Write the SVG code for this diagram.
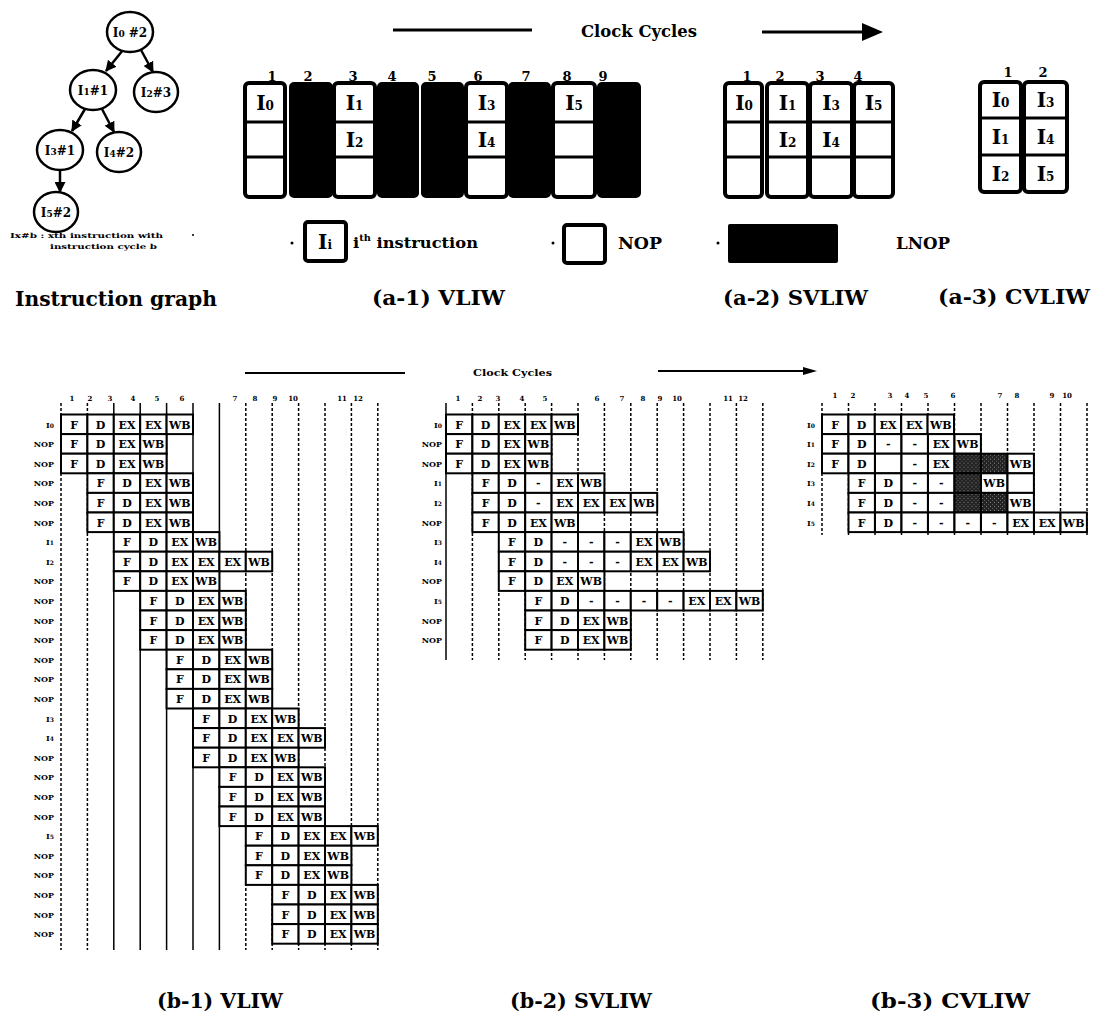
<svg xmlns="http://www.w3.org/2000/svg" width="1093" height="1023" viewBox="0 0 1093 1023">
<style>
.sf{font-family:"DejaVu Serif","Liberation Serif",serif;font-weight:bold;fill:#000}
.col{fill:#fff;stroke:#000;stroke-width:4}
.blk{fill:#000;stroke:#000;stroke-width:2}
.dv{stroke:#000;stroke-width:3}
.cell{fill:#fff;stroke:#000;stroke-width:2}
.ct{font-family:"DejaVu Serif","Liberation Serif",serif;font-weight:bold;font-size:11px;text-anchor:middle}
.lbl{font-family:"DejaVu Serif","Liberation Serif",serif;font-weight:bold;font-size:8px;text-anchor:end}
.num{font-family:"DejaVu Serif","Liberation Serif",serif;font-weight:bold;font-size:7px;text-anchor:middle}
.anum{font-family:"DejaVu Serif","Liberation Serif",serif;font-weight:bold;font-size:13px;text-anchor:middle}
.vs{stroke:#000;stroke-width:1.5}
.vd{stroke:#000;stroke-width:1.5;stroke-dasharray:3 2}
.it{font-family:"DejaVu Serif","Liberation Serif",serif;font-weight:bold;font-size:20px;text-anchor:middle}
.nt{font-family:"DejaVu Serif","Liberation Serif",serif;font-weight:bold;font-size:12px;text-anchor:middle}
.node{fill:#fff;stroke:#000;stroke-width:2.5}
.edge{stroke:#000;stroke-width:2.5;fill:none;marker-end:url(#ah)}
.cap{font-family:"DejaVu Serif","Liberation Serif",serif;font-weight:bold;font-size:20px}
</style>
<defs>
<marker id="ah" viewBox="0 0 10 10" refX="9" refY="5" markerWidth="11" markerHeight="11" markerUnits="userSpaceOnUse" orient="auto"><path d="M0,0 L10,5 L0,10 z" fill="#000"/></marker>
<pattern id="dots" width="4" height="4" patternUnits="userSpaceOnUse"><rect width="4" height="4" fill="#222"/><rect x="1" y="1" width="1" height="1" fill="#888"/><rect x="3" y="3" width="1" height="1" fill="#666"/></pattern>
<g id="cF"><rect class="cell" width="26.4" height="19.6"/><text class="ct" x="13.2" y="14">F</text></g>
<g id="cD"><rect class="cell" width="26.4" height="19.6"/><text class="ct" x="13.2" y="14">D</text></g>
<g id="cEX"><rect class="cell" width="26.4" height="19.6"/><text class="ct" x="13.2" y="14">EX</text></g>
<g id="cWB"><rect class="cell" width="26.4" height="19.6"/><text class="ct" x="13.2" y="14">WB</text></g>
<g id="cM"><rect class="cell" width="26.4" height="19.6"/><text class="ct" x="13.2" y="14">-</text></g>
<g id="cE"><rect class="cell" width="26.4" height="19.6"/></g>
<g id="cS"><rect width="26.4" height="19.6" fill="url(#dots)" stroke="#000" stroke-width="2"/></g>
<g id="s4"><use href="#cF"/><use href="#cD" x="26.4"/><use href="#cEX" x="52.8"/><use href="#cWB" x="79.2"/></g>
<g id="s5"><use href="#cF"/><use href="#cD" x="26.4"/><use href="#cEX" x="52.8"/><use href="#cEX" x="79.2"/><use href="#cWB" x="105.6"/></g>
<g id="s6"><use href="#cF"/><use href="#cD" x="26.4"/><use href="#cEX" x="52.8"/><use href="#cEX" x="79.2"/><use href="#cEX" x="105.6"/><use href="#cWB" x="132"/></g>
</defs>
<rect width="1093" height="1023" fill="#fff"/>

<!-- Instruction graph -->
<g id="connectors">
<line class="edge" x1="123" y1="50" x2="106" y2="71"/>
<line class="edge" x1="141" y1="50" x2="153" y2="72"/>
<line class="edge" x1="85" y1="109" x2="72" y2="131"/>
<line class="edge" x1="102" y1="109" x2="114" y2="132"/>
<line class="edge" x1="60" y1="170" x2="60" y2="192"/>
</g>
<g id="n-I0"><ellipse class="node" cx="130" cy="32" rx="23" ry="20"/><text class="nt" x="130" y="37">I<tspan font-size="9">0</tspan> #2</text></g>
<g id="n-I1"><ellipse class="node" cx="93" cy="90" rx="23" ry="20"/><text class="nt" x="93" y="95">I<tspan font-size="9">1</tspan>#1</text></g>
<g id="n-I2"><ellipse class="node" cx="156" cy="92" rx="22" ry="20"/><text class="nt" x="156" y="97">I<tspan font-size="9">2</tspan>#3</text></g>
<g id="n-I3"><ellipse class="node" cx="60" cy="150" rx="23" ry="20"/><text class="nt" x="60" y="155">I<tspan font-size="9">3</tspan>#1</text></g>
<g id="n-I4"><ellipse class="node" cx="119" cy="152" rx="22" ry="20"/><text class="nt" x="119" y="157">I<tspan font-size="9">4</tspan>#2</text></g>
<g id="n-I5"><ellipse class="node" cx="56" cy="212" rx="22" ry="20"/><text class="nt" x="56" y="217">I<tspan font-size="9">5</tspan>#2</text></g>
<text class="sf" x="10" y="238" font-size="7" textLength="153" lengthAdjust="spacingAndGlyphs">Ix#b :  xth  instruction with</text>
<text class="sf" x="50" y="249" font-size="7" textLength="107" lengthAdjust="spacingAndGlyphs">instruction cycle      b</text>
<circle cx="193" cy="235" r="1" fill="#000"/>

<!-- top clock cycles header -->
<g id="hdr-a">
<line x1="393" y1="30" x2="532" y2="30" stroke="#000" stroke-width="3"/>
<text class="sf" x="581" y="37" font-size="17" textLength="116" lengthAdjust="spacingAndGlyphs">Clock Cycles</text>
<line x1="762" y1="32" x2="866" y2="32" stroke="#000" stroke-width="3"/>
<polygon points="862,23 883,32 862,41" fill="#000"/>
</g>

<!-- (a-1) VLIW -->
<g id="a1">
<text class="anum" x="272" y="81">1</text><text class="anum" x="308" y="81">2</text><text class="anum" x="353" y="81">3</text><text class="anum" x="392" y="81">4</text><text class="anum" x="432" y="81">5</text><text class="anum" x="478" y="81">6</text><text class="anum" x="526" y="81">7</text><text class="anum" x="567" y="81">8</text><text class="anum" x="603" y="81">9</text>
<rect class="col" x="245" y="83" width="40" height="114" rx="4"/><line class="dv" x1="245" y1="122" x2="285" y2="122"/><line class="dv" x1="245" y1="157" x2="285" y2="157"/>
<rect class="blk" x="290" y="83" width="42" height="114" rx="4"/>
<rect class="col" x="334" y="83" width="41" height="114" rx="4"/><line class="dv" x1="334" y1="122" x2="375" y2="122"/><line class="dv" x1="334" y1="157" x2="375" y2="157"/>
<rect class="blk" x="378" y="83" width="40" height="114" rx="4"/>
<rect class="blk" x="422" y="83" width="41" height="114" rx="4"/>
<rect class="col" x="466" y="83" width="41" height="114" rx="4"/><line class="dv" x1="466" y1="122" x2="507" y2="122"/><line class="dv" x1="466" y1="157" x2="507" y2="157"/>
<rect class="blk" x="509" y="83" width="41" height="114" rx="4"/>
<rect class="col" x="553" y="83" width="42" height="114" rx="4"/><line class="dv" x1="553" y1="122" x2="595" y2="122"/><line class="dv" x1="553" y1="157" x2="595" y2="157"/>
<rect class="blk" x="598" y="83" width="42" height="114" rx="4"/>
<text class="it" x="265" y="110">I<tspan font-size="12">0</tspan></text>
<text class="it" x="354.5" y="110">I<tspan font-size="12">1</tspan></text>
<text class="it" x="354.5" y="147">I<tspan font-size="12">2</tspan></text>
<text class="it" x="486.5" y="110">I<tspan font-size="12">3</tspan></text>
<text class="it" x="486.5" y="147">I<tspan font-size="12">4</tspan></text>
<text class="it" x="574" y="110">I<tspan font-size="12">5</tspan></text>
</g>

<!-- (a-2) SVLIW -->
<g id="a2">
<text class="anum" x="747" y="81">1</text><text class="anum" x="780" y="81">2</text><text class="anum" x="820" y="81">3</text><text class="anum" x="858" y="81">4</text>
<rect class="col" x="725" y="83" width="37" height="114" rx="4"/><line class="dv" x1="725" y1="122" x2="762" y2="122"/><line class="dv" x1="725" y1="157" x2="762" y2="157"/>
<rect class="col" x="767" y="83" width="41" height="114" rx="4"/><line class="dv" x1="767" y1="122" x2="808" y2="122"/><line class="dv" x1="767" y1="157" x2="808" y2="157"/>
<rect class="col" x="810" y="83" width="42" height="114" rx="4"/><line class="dv" x1="810" y1="122" x2="852" y2="122"/><line class="dv" x1="810" y1="157" x2="852" y2="157"/>
<rect class="col" x="854" y="83" width="39" height="114" rx="4"/><line class="dv" x1="854" y1="122" x2="893" y2="122"/><line class="dv" x1="854" y1="157" x2="893" y2="157"/>
<text class="it" x="744" y="110">I<tspan font-size="12">0</tspan></text>
<text class="it" x="787.5" y="110">I<tspan font-size="12">1</tspan></text>
<text class="it" x="787.5" y="147">I<tspan font-size="12">2</tspan></text>
<text class="it" x="831" y="110">I<tspan font-size="12">3</tspan></text>
<text class="it" x="831" y="147">I<tspan font-size="12">4</tspan></text>
<text class="it" x="873.5" y="110">I<tspan font-size="12">5</tspan></text>
</g>

<!-- (a-3) CVLIW -->
<g id="a3">
<text class="anum" x="1008" y="77">1</text><text class="anum" x="1043" y="77">2</text>
<rect class="col" x="980" y="82" width="41" height="110" rx="4"/><line class="dv" x1="980" y1="118" x2="1021" y2="118"/><line class="dv" x1="980" y1="155" x2="1021" y2="155"/>
<rect class="col" x="1024" y="82" width="43" height="110" rx="4"/><line class="dv" x1="1024" y1="118" x2="1067" y2="118"/><line class="dv" x1="1024" y1="155" x2="1067" y2="155"/>
<text class="it" x="1000.5" y="107">I<tspan font-size="12">0</tspan></text>
<text class="it" x="1000.5" y="144">I<tspan font-size="12">1</tspan></text>
<text class="it" x="1000.5" y="181">I<tspan font-size="12">2</tspan></text>
<text class="it" x="1045.5" y="107">I<tspan font-size="12">3</tspan></text>
<text class="it" x="1045.5" y="144">I<tspan font-size="12">4</tspan></text>
<text class="it" x="1045.5" y="181">I<tspan font-size="12">5</tspan></text>
</g>

<!-- legend -->
<g id="legend">
<circle cx="292" cy="243" r="1.5" fill="#000"/>
<rect class="col" x="305" y="222" width="41" height="39" rx="3"/>
<text class="it" x="325" y="249" font-size="19">I<tspan font-size="12">i</tspan></text>
<text class="sf" x="353" y="248" font-size="15" textLength="125" lengthAdjust="spacingAndGlyphs">i<tspan font-size="9" dy="-7">th</tspan><tspan dy="7"> instruction</tspan></text>
<circle cx="553" cy="243" r="1.5" fill="#000"/>
<rect class="col" x="564" y="225" width="41" height="38" rx="3"/>
<text class="sf" x="618" y="249" font-size="16" textLength="44" lengthAdjust="spacingAndGlyphs">NOP</text>
<circle cx="718" cy="243" r="1.5" fill="#000"/>
<rect x="728" y="224" width="110" height="39" fill="#000" rx="2"/>
<text class="sf" x="896" y="249" font-size="16" textLength="54" lengthAdjust="spacingAndGlyphs">LNOP</text>
</g>

<!-- captions top -->
<text class="cap" x="15" y="306" textLength="202" lengthAdjust="spacingAndGlyphs">Instruction graph</text>
<text class="cap" x="372" y="305" textLength="133" lengthAdjust="spacingAndGlyphs">(a-1) VLIW</text>
<text class="cap" x="723" y="305" textLength="145" lengthAdjust="spacingAndGlyphs">(a-2) SVLIW</text>
<text class="cap" x="938" y="304" textLength="152" lengthAdjust="spacingAndGlyphs">(a-3) CVLIW</text>

<!-- b header -->
<g id="hdr-b">
<line x1="245" y1="373" x2="405" y2="373" stroke="#000" stroke-width="2"/>
<text class="sf" x="473" y="376" font-size="10" textLength="79" lengthAdjust="spacingAndGlyphs">Clock   Cycles</text>
<line x1="658" y1="371" x2="806" y2="371" stroke="#000" stroke-width="2"/>
<polygon points="803,367 817,371 803,375" fill="#000"/>
</g>

<!-- (b-1) VLIW -->
<g id="b1">
<line class="vd" x1="61" y1="403" x2="61" y2="950"/>
<line class="vd" x1="87.4" y1="403" x2="87.4" y2="950"/>
<line class="vs" x1="113.8" y1="403" x2="113.8" y2="950"/>
<line class="vs" x1="140.2" y1="403" x2="140.2" y2="950"/>
<line class="vs" x1="166.6" y1="403" x2="166.6" y2="950"/>
<line class="vs" x1="193" y1="403" x2="193" y2="950"/>
<line class="vs" x1="219.4" y1="403" x2="219.4" y2="950"/>
<line class="vd" x1="245.8" y1="403" x2="245.8" y2="950"/>
<line class="vd" x1="272.2" y1="403" x2="272.2" y2="950"/>
<line class="vd" x1="298.6" y1="403" x2="298.6" y2="950"/>
<line class="vd" x1="325" y1="403" x2="325" y2="950"/>
<line class="vd" x1="351.4" y1="403" x2="351.4" y2="950"/>
<line class="vd" x1="377.8" y1="403" x2="377.8" y2="950"/>
<text class="num" x="72" y="401">1</text><text class="num" x="90" y="401">2</text><text class="num" x="110" y="401">3</text><text class="num" x="133" y="401">4</text><text class="num" x="157" y="401">5</text><text class="num" x="182" y="401">6</text><text class="num" x="235" y="401">7</text><text class="num" x="255" y="401">8</text><text class="num" x="275" y="401">9</text><text class="num" x="293" y="401">10</text><text class="num" x="342" y="401">11</text><text class="num" x="358" y="401">12</text>
<use href="#s5" x="61" y="414.5"/>
<use href="#s4" x="61" y="434.1"/>
<use href="#s4" x="61" y="453.7"/>
<use href="#s4" x="87.4" y="473.3"/>
<use href="#s4" x="87.4" y="492.9"/>
<use href="#s4" x="87.4" y="512.5"/>
<use href="#s4" x="113.8" y="532.1"/>
<use href="#s6" x="113.8" y="551.7"/>
<use href="#s4" x="113.8" y="571.3"/>
<use href="#s4" x="140.2" y="590.9"/>
<use href="#s4" x="140.2" y="610.5"/>
<use href="#s4" x="140.2" y="630.1"/>
<use href="#s4" x="166.6" y="649.7"/>
<use href="#s4" x="166.6" y="669.3"/>
<use href="#s4" x="166.6" y="688.9"/>
<use href="#s4" x="193" y="708.5"/>
<use href="#s5" x="193" y="728.1"/>
<use href="#s4" x="193" y="747.7"/>
<use href="#s4" x="219.4" y="767.3"/>
<use href="#s4" x="219.4" y="786.9"/>
<use href="#s4" x="219.4" y="806.5"/>
<use href="#s5" x="245.8" y="826.1"/>
<use href="#s4" x="245.8" y="845.7"/>
<use href="#s4" x="245.8" y="865.3"/>
<use href="#s4" x="272.2" y="884.9"/>
<use href="#s4" x="272.2" y="904.5"/>
<use href="#s4" x="272.2" y="924.1"/>
<text class="lbl" x="54" y="427.5">I<tspan font-size="6">0</tspan></text>
<text class="lbl" x="54" y="447.1">NOP</text>
<text class="lbl" x="54" y="466.7">NOP</text>
<text class="lbl" x="54" y="486.3">NOP</text>
<text class="lbl" x="54" y="505.9">NOP</text>
<text class="lbl" x="54" y="525.5">NOP</text>
<text class="lbl" x="54" y="545.1">I<tspan font-size="6">1</tspan></text>
<text class="lbl" x="54" y="564.7">I<tspan font-size="6">2</tspan></text>
<text class="lbl" x="54" y="584.3">NOP</text>
<text class="lbl" x="54" y="603.9">NOP</text>
<text class="lbl" x="54" y="623.5">NOP</text>
<text class="lbl" x="54" y="643.1">NOP</text>
<text class="lbl" x="54" y="662.7">NOP</text>
<text class="lbl" x="54" y="682.3">NOP</text>
<text class="lbl" x="54" y="701.9">NOP</text>
<text class="lbl" x="54" y="721.5">I<tspan font-size="6">3</tspan></text>
<text class="lbl" x="54" y="741.1">I<tspan font-size="6">4</tspan></text>
<text class="lbl" x="54" y="760.7">NOP</text>
<text class="lbl" x="54" y="780.3">NOP</text>
<text class="lbl" x="54" y="799.9">NOP</text>
<text class="lbl" x="54" y="819.5">NOP</text>
<text class="lbl" x="54" y="839.1">I<tspan font-size="6">5</tspan></text>
<text class="lbl" x="54" y="858.7">NOP</text>
<text class="lbl" x="54" y="878.3">NOP</text>
<text class="lbl" x="54" y="897.9">NOP</text>
<text class="lbl" x="54" y="917.5">NOP</text>
<text class="lbl" x="54" y="937.1">NOP</text>
</g>

<!-- (b-2) SVLIW -->
<g id="b2">
<line class="vs" x1="446" y1="403" x2="446" y2="660"/>
<line class="vd" x1="472.4" y1="403" x2="472.4" y2="660"/>
<line class="vd" x1="498.8" y1="403" x2="498.8" y2="660"/>
<line class="vd" x1="525.2" y1="403" x2="525.2" y2="660"/>
<line class="vd" x1="551.6" y1="403" x2="551.6" y2="660"/>
<line class="vd" x1="578" y1="403" x2="578" y2="660"/>
<line class="vd" x1="604.4" y1="403" x2="604.4" y2="660"/>
<line class="vd" x1="630.8" y1="403" x2="630.8" y2="660"/>
<line class="vd" x1="657.2" y1="403" x2="657.2" y2="660"/>
<line class="vd" x1="683.6" y1="403" x2="683.6" y2="660"/>
<line class="vd" x1="710" y1="403" x2="710" y2="660"/>
<line class="vd" x1="736.4" y1="403" x2="736.4" y2="660"/>
<line class="vd" x1="762.8" y1="403" x2="762.8" y2="660"/>
<text class="num" x="458" y="401">1</text><text class="num" x="480" y="401">2</text><text class="num" x="498" y="401">3</text><text class="num" x="522" y="401">4</text><text class="num" x="545" y="401">5</text><text class="num" x="597" y="401">6</text><text class="num" x="622" y="401">7</text><text class="num" x="643" y="401">8</text><text class="num" x="660" y="401">9</text><text class="num" x="677" y="401">10</text><text class="num" x="728" y="401">11</text><text class="num" x="743" y="401">12</text>
<use href="#s5" x="446" y="414.5"/>
<use href="#s4" x="446" y="434.1"/>
<use href="#s4" x="446" y="453.7"/>
<use href="#cF" x="472.4" y="473.3"/><use href="#cD" x="498.8" y="473.3"/><use href="#cM" x="525.2" y="473.3"/><use href="#cEX" x="551.6" y="473.3"/><use href="#cWB" x="578" y="473.3"/>
<use href="#cF" x="472.4" y="492.9"/><use href="#cD" x="498.8" y="492.9"/><use href="#cM" x="525.2" y="492.9"/><use href="#cEX" x="551.6" y="492.9"/><use href="#cEX" x="578" y="492.9"/><use href="#cEX" x="604.4" y="492.9"/><use href="#cWB" x="630.8" y="492.9"/>
<use href="#s4" x="472.4" y="512.5"/>
<use href="#cF" x="498.8" y="532.1"/><use href="#cD" x="525.2" y="532.1"/><use href="#cM" x="551.6" y="532.1"/><use href="#cM" x="578" y="532.1"/><use href="#cM" x="604.4" y="532.1"/><use href="#cEX" x="630.8" y="532.1"/><use href="#cWB" x="657.2" y="532.1"/>
<use href="#cF" x="498.8" y="551.7"/><use href="#cD" x="525.2" y="551.7"/><use href="#cM" x="551.6" y="551.7"/><use href="#cM" x="578" y="551.7"/><use href="#cM" x="604.4" y="551.7"/><use href="#cEX" x="630.8" y="551.7"/><use href="#cEX" x="657.2" y="551.7"/><use href="#cWB" x="683.6" y="551.7"/>
<use href="#s4" x="498.8" y="571.3"/>
<use href="#cF" x="525.2" y="590.9"/><use href="#cD" x="551.6" y="590.9"/><use href="#cM" x="578" y="590.9"/><use href="#cM" x="604.4" y="590.9"/><use href="#cM" x="630.8" y="590.9"/><use href="#cM" x="657.2" y="590.9"/><use href="#cEX" x="683.6" y="590.9"/><use href="#cEX" x="710" y="590.9"/><use href="#cWB" x="736.4" y="590.9"/>
<use href="#s4" x="525.2" y="610.5"/>
<use href="#s4" x="525.2" y="630.1"/>
<text class="lbl" x="442" y="427.5">I<tspan font-size="6">0</tspan></text>
<text class="lbl" x="442" y="447.1">NOP</text>
<text class="lbl" x="442" y="466.7">NOP</text>
<text class="lbl" x="442" y="486.3">I<tspan font-size="6">1</tspan></text>
<text class="lbl" x="442" y="505.9">I<tspan font-size="6">2</tspan></text>
<text class="lbl" x="442" y="525.5">NOP</text>
<text class="lbl" x="442" y="545.1">I<tspan font-size="6">3</tspan></text>
<text class="lbl" x="442" y="564.7">I<tspan font-size="6">4</tspan></text>
<text class="lbl" x="442" y="584.3">NOP</text>
<text class="lbl" x="442" y="603.9">I<tspan font-size="6">5</tspan></text>
<text class="lbl" x="442" y="623.5">NOP</text>
<text class="lbl" x="442" y="643.1">NOP</text>
</g>

<!-- (b-3) CVLIW -->
<g id="b3">
<line class="vd" x1="822" y1="403" x2="822" y2="535"/>
<line class="vd" x1="848.5" y1="403" x2="848.5" y2="535"/>
<line class="vd" x1="875" y1="403" x2="875" y2="535"/>
<line class="vd" x1="901.5" y1="403" x2="901.5" y2="535"/>
<line class="vd" x1="928" y1="403" x2="928" y2="535"/>
<line class="vd" x1="954.5" y1="403" x2="954.5" y2="535"/>
<line class="vd" x1="981" y1="403" x2="981" y2="535"/>
<line class="vd" x1="1007.5" y1="403" x2="1007.5" y2="535"/>
<line class="vd" x1="1034" y1="403" x2="1034" y2="535"/>
<line class="vd" x1="1060.5" y1="403" x2="1060.5" y2="535"/>
<line class="vd" x1="1087" y1="403" x2="1087" y2="535"/>
<text class="num" x="835" y="398">1</text><text class="num" x="853" y="398">2</text><text class="num" x="890" y="398">3</text><text class="num" x="907" y="398">4</text><text class="num" x="926" y="398">5</text><text class="num" x="953" y="398">6</text><text class="num" x="1000" y="398">7</text><text class="num" x="1017" y="398">8</text><text class="num" x="1052" y="398">9</text><text class="num" x="1067" y="398">10</text>
<use href="#s5" x="822" y="414.5"/>
<use href="#cF" x="822" y="434.1"/><use href="#cD" x="848.5" y="434.1"/><use href="#cM" x="875" y="434.1"/><use href="#cM" x="901.5" y="434.1"/><use href="#cEX" x="928" y="434.1"/><use href="#cWB" x="954.5" y="434.1"/>
<use href="#cF" x="822" y="453.7"/><use href="#cD" x="848.5" y="453.7"/><use href="#cE" x="875" y="453.7"/><use href="#cM" x="901.5" y="453.7"/><use href="#cEX" x="928" y="453.7"/><use href="#cS" x="954.5" y="453.7"/><use href="#cS" x="981" y="453.7"/><use href="#cWB" x="1007.5" y="453.7"/>
<use href="#cF" x="848.5" y="473.3"/><use href="#cD" x="875" y="473.3"/><use href="#cM" x="901.5" y="473.3"/><use href="#cM" x="928" y="473.3"/><use href="#cS" x="954.5" y="473.3"/><use href="#cWB" x="981" y="473.3"/><use href="#cE" x="1007.5" y="473.3"/>
<use href="#cF" x="848.5" y="492.9"/><use href="#cD" x="875" y="492.9"/><use href="#cM" x="901.5" y="492.9"/><use href="#cM" x="928" y="492.9"/><use href="#cS" x="954.5" y="492.9"/><use href="#cS" x="981" y="492.9"/><use href="#cWB" x="1007.5" y="492.9"/>
<use href="#cF" x="848.5" y="512.5"/><use href="#cD" x="875" y="512.5"/><use href="#cM" x="901.5" y="512.5"/><use href="#cM" x="928" y="512.5"/><use href="#cM" x="954.5" y="512.5"/><use href="#cM" x="981" y="512.5"/><use href="#cEX" x="1007.5" y="512.5"/><use href="#cEX" x="1034" y="512.5"/><use href="#cWB" x="1060.5" y="512.5"/>
<text class="lbl" x="815" y="427.5">I<tspan font-size="6">0</tspan></text>
<text class="lbl" x="815" y="447.1">I<tspan font-size="6">1</tspan></text>
<text class="lbl" x="815" y="466.7">I<tspan font-size="6">2</tspan></text>
<text class="lbl" x="815" y="486.3">I<tspan font-size="6">3</tspan></text>
<text class="lbl" x="815" y="505.9">I<tspan font-size="6">4</tspan></text>
<text class="lbl" x="815" y="525.5">I<tspan font-size="6">5</tspan></text>
</g>

<!-- captions bottom -->
<text class="cap" x="157" y="1008" textLength="126" lengthAdjust="spacingAndGlyphs">(b-1) VLIW</text>
<text class="cap" x="510" y="1008" textLength="142" lengthAdjust="spacingAndGlyphs">(b-2) SVLIW</text>
<text class="cap" x="870" y="1008" textLength="160" lengthAdjust="spacingAndGlyphs">(b-3) CVLIW</text>
</svg>
